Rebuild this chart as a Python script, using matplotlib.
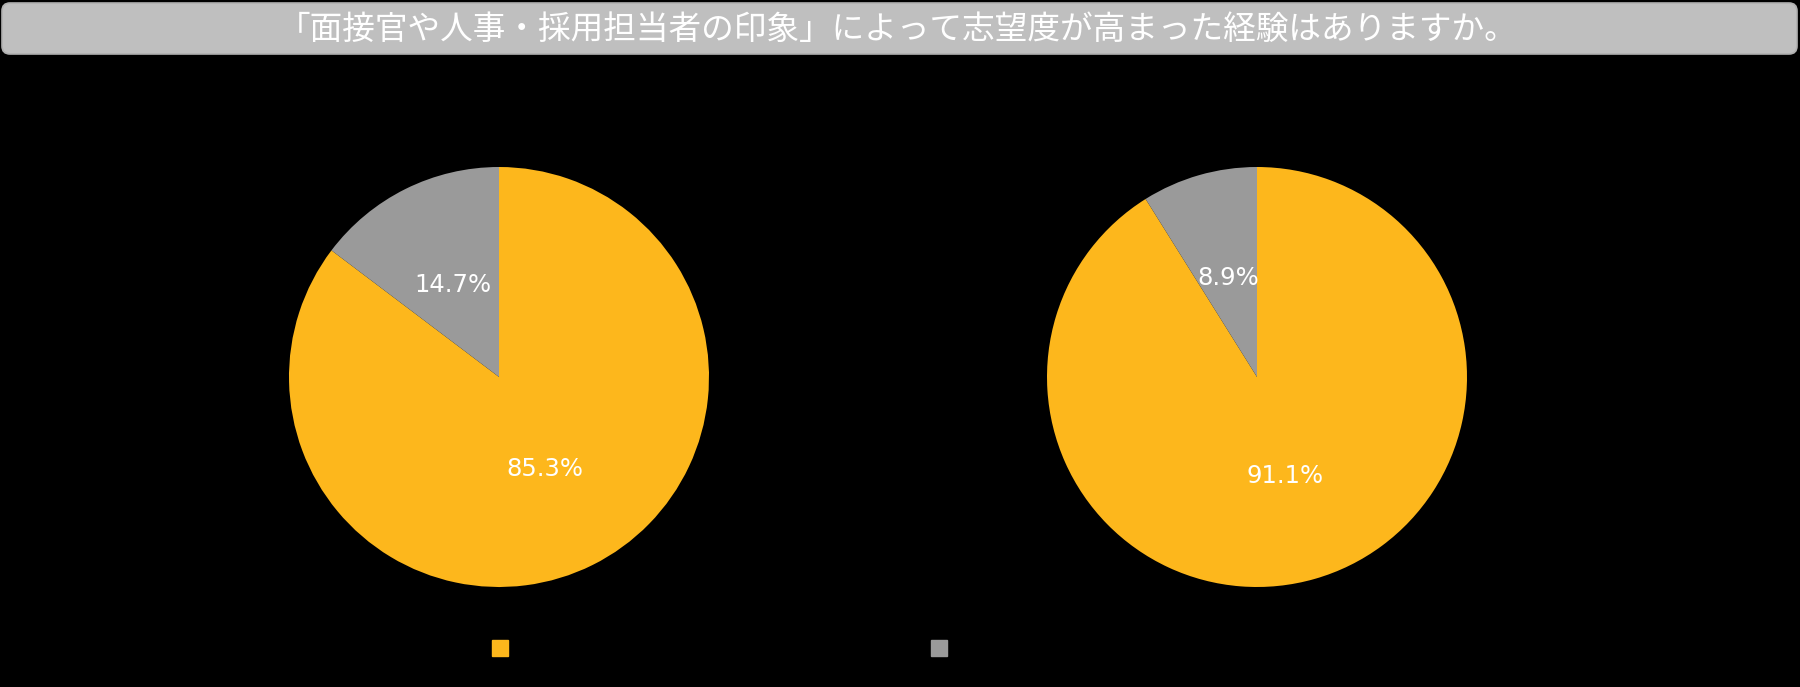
import matplotlib
matplotlib.use('Agg')
import matplotlib.pyplot as plt
from matplotlib.patches import FancyBboxPatch
from matplotlib.lines import Line2D

plt.rcParams['font.family'] = ['Noto Sans CJK JP', 'DejaVu Sans']

# データ
title = '「面接官や人事・採用担当者の印象」によって志望度が高まった経験はありますか。'
categories = ['ある', 'ない']
values_left = [85.3, 14.7]
values_right = [91.1, 8.9]
colors = ['#FDB71C', '#9A9A9A']

fig = plt.figure(figsize=(18, 6.87), dpi=100, facecolor='black')

# タイトル枠
ax_t = fig.add_axes([0, 1 - 56 / 687, 1, 56 / 687])
ax_t.set_xlim(0, 1800)
ax_t.set_ylim(0, 56)
ax_t.axis('off')
box = FancyBboxPatch((2, 2), 1795, 51, boxstyle='round,pad=0,rounding_size=8',
                     facecolor='#BFBFBF', edgecolor='#B0B0B0', linewidth=1.2)
ax_t.add_patch(box)
ax_t.text(898, 26, title, color='white', fontsize=23.5, ha='center', va='center')

# 円グラフ
def draw_pie(left, vals):
    ax = fig.add_axes([left, 100 / 687, 420 / 1800, 420 / 687])
    ax.set_facecolor('black')
    wedges, texts, autotexts = ax.pie(
        vals, colors=colors, startangle=90, counterclock=False,
        autopct='%.1f%%', pctdistance=0.49, radius=1,
        textprops={'color': 'white', 'fontsize': 17.5, 'family': 'DejaVu Sans'},
        wedgeprops={'linewidth': 0})
    ax.set_xlim(-1, 1)
    ax.set_ylim(-1, 1)
    ax.set_aspect('equal')
    return ax

draw_pie(289 / 1800, values_left)
draw_pie(1047 / 1800, values_right)

# 凡例
legend_x = [492 / 1800, 931 / 1800]
legend_y = 1 - 649 / 687
for i, (cat, col) in enumerate(zip(categories, colors)):
    h = Line2D([], [], marker='s', linestyle='none', markersize=12,
               markerfacecolor=col, markeredgecolor=col)
    leg = fig.legend(handles=[h], labels=[cat], loc='center left',
                     bbox_to_anchor=(legend_x[i], legend_y), frameon=False,
                     handlelength=1.0, handletextpad=0.4, borderpad=0,
                     borderaxespad=0, fontsize=12, labelcolor='black')

fig.savefig('out.png', dpi=100, facecolor='black')
